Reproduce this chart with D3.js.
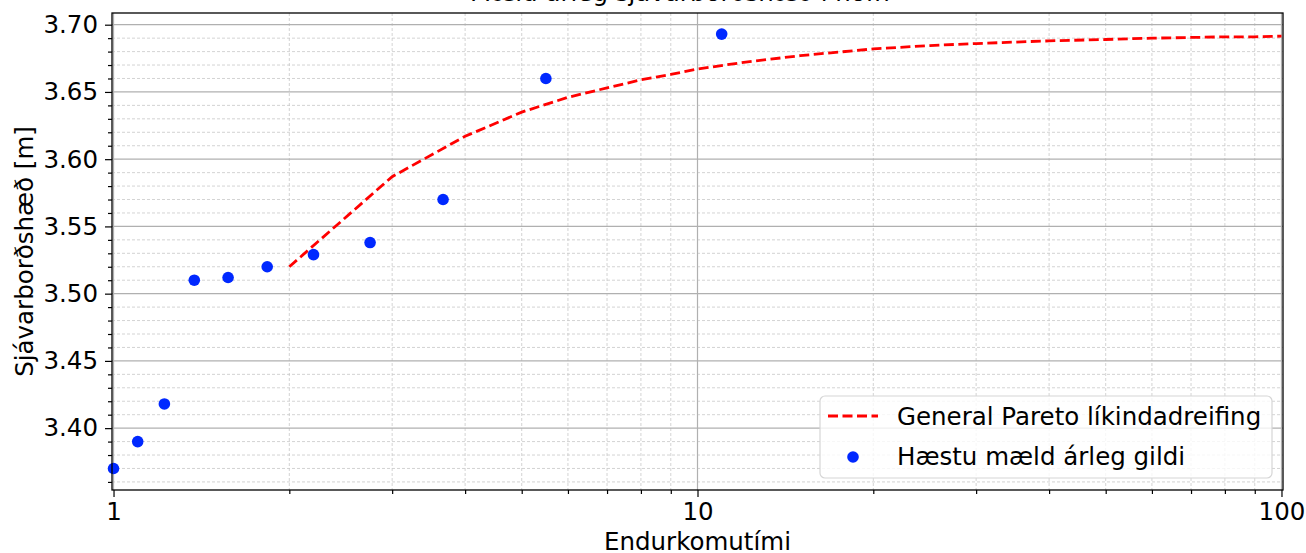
<!DOCTYPE html>
<html>
<head>
<meta charset="utf-8">
<script src="https://cdn.jsdelivr.net/npm/d3@7"></script>
<style>
  body { margin: 0; background: #fff; }
  svg { display: block; font-family: "DejaVu Sans", sans-serif; }
</style>
</head>
<body>
<svg id="chart" width="1306" height="553"></svg>
<script>
// return periods (years) and highest measured annual values
const obsPeriod = [11, 5.5, 3.667, 2.75, 2.2, 1.833, 1.571, 1.375, 1.222, 1.1, 1.0];
const obsLevel = [3.693, 3.660, 3.570, 3.538, 3.529, 3.520, 3.512, 3.510, 3.418, 3.390, 3.370];

// fitted General Pareto return levels
const fitPeriod = [2, 3, 4, 5, 6, 7, 8, 9, 10, 12, 15, 20, 25, 30, 40, 50, 60, 70, 80, 90, 100];
const fitLevel = [3.520, 3.587, 3.617, 3.635, 3.646, 3.653, 3.659, 3.663, 3.667, 3.672, 3.677,
                  3.682, 3.6845, 3.686, 3.688, 3.689, 3.690, 3.6905, 3.691, 3.691, 3.6915];

const xMajor = [1, 10, 100];
const xMinor = [2, 3, 4, 5, 6, 7, 8, 9, 20, 30, 40, 50, 60, 70, 80, 90];
const yMajor = [3.40, 3.45, 3.50, 3.55, 3.60, 3.65, 3.70];

const titleText = "Mæld árleg sjávarborðshæð í höfn";
const xLabel = "Endurkomutími";
const yLabel = "Sjávarborðshæð [m]";
const legendLabels = ["General Pareto líkindadreifing", "Hæstu mæld árleg gildi"];

const fs = 24.5;
const svg = d3.select("#chart");
const pLeft = 112, pRight = 1283, pTop = 13, pBottom = 490;

const x = d3.scaleLog().domain([0.994, 100.6]).range([pLeft, pRight]);
const y = d3.scaleLinear().domain([3.354, 3.7087]).range([pBottom, pTop]);

const yMinor = d3.range(3.36, 3.705, 0.01).filter(v => !yMajor.some(m => Math.abs(m - v) < 1e-6));

// grid
const grid = svg.append("g");
grid.selectAll("line.xmin").data(xMinor).enter().append("line")
  .attr("x1", d => x(d)).attr("x2", d => x(d)).attr("y1", pTop).attr("y2", pBottom)
  .attr("stroke", "#c8c8c8").attr("stroke-width", 0.8).attr("stroke-dasharray", "3,2");
grid.selectAll("line.ymin").data(yMinor).enter().append("line")
  .attr("y1", d => y(d)).attr("y2", d => y(d)).attr("x1", pLeft).attr("x2", pRight)
  .attr("stroke", "#c8c8c8").attr("stroke-width", 0.8).attr("stroke-dasharray", "3,2");
grid.selectAll("line.xmaj").data(xMajor).enter().append("line")
  .attr("x1", d => x(d)).attr("x2", d => x(d)).attr("y1", pTop).attr("y2", pBottom)
  .attr("stroke", "#b0b0b0").attr("stroke-width", 1.2);
grid.selectAll("line.ymaj").data(yMajor).enter().append("line")
  .attr("y1", d => y(d)).attr("y2", d => y(d)).attr("x1", pLeft).attr("x2", pRight)
  .attr("stroke", "#b0b0b0").attr("stroke-width", 1.2);

// axes
svg.append("g").attr("transform", `translate(0,${pBottom})`)
  .call(d3.axisBottom(x).tickValues(xMajor).tickFormat(d3.format("d")).tickSize(7).tickPadding(6));
svg.append("g").attr("transform", `translate(0,${pBottom})`)
  .call(d3.axisBottom(x).tickValues(xMinor).tickFormat("").tickSize(4));
svg.append("g").attr("transform", `translate(${pLeft},0)`)
  .call(d3.axisLeft(y).tickValues(yMajor).tickFormat(d3.format(".2f")).tickSize(7).tickPadding(7));
svg.append("g").attr("transform", `translate(${pLeft},0)`)
  .call(d3.axisLeft(y).tickValues(yMinor).tickFormat("").tickSize(4));

svg.selectAll(".domain").remove();
svg.selectAll(".tick line").attr("stroke", "#000").attr("stroke-width", 1.2);
svg.selectAll(".tick text").attr("font-size", fs).attr("fill", "#000")
  .attr("font-family", "DejaVu Sans, sans-serif");

// fitted curve
svg.append("path").datum(fitPeriod.map((t, i) => [t, fitLevel[i]]))
  .attr("d", d3.line().x(d => x(d[0])).y(d => y(d[1])))
  .attr("fill", "none").attr("stroke", "#ff0000").attr("stroke-width", 2.8)
  .attr("stroke-dasharray", "10,4.5");

// observations
svg.selectAll("circle.obs").data(obsPeriod.map((t, i) => [t, obsLevel[i]])).enter()
  .append("circle").attr("class", "obs")
  .attr("cx", d => x(d[0])).attr("cy", d => y(d[1])).attr("r", 5.8)
  .attr("fill", "#0028ff");

// frame
svg.append("rect").attr("x", pLeft).attr("y", pTop).attr("width", pRight - pLeft).attr("height", pBottom - pTop)
  .attr("fill", "none").attr("stroke", "#000").attr("stroke-width", 1.3);

// legend
const lg = svg.append("g").attr("transform", "translate(820,396)");
lg.append("rect").attr("width", 452).attr("height", 82).attr("rx", 5)
  .attr("fill", "#fff").attr("fill-opacity", 0.8).attr("stroke", "#d6d6d6").attr("stroke-width", 1.2);
lg.append("line").attr("x1", 8).attr("x2", 58).attr("y1", 20).attr("y2", 20)
  .attr("stroke", "#ff0000").attr("stroke-width", 2.8).attr("stroke-dasharray", "10,4.5");
lg.append("circle").attr("cx", 33).attr("cy", 61).attr("r", 5.8).attr("fill", "#0028ff");
lg.selectAll("text").data(legendLabels).enter().append("text")
  .attr("x", 77).attr("y", (d, i) => 29 + i * 40)
  .attr("font-size", fs).attr("fill", "#000").text(d => d);

// labels
svg.append("text").attr("x", (pLeft + pRight) / 2).attr("y", 550).attr("text-anchor", "middle")
  .attr("font-size", fs).text(xLabel);
svg.append("text").attr("transform", `translate(33,${(pTop + pBottom) / 2}) rotate(-90)`)
  .attr("text-anchor", "middle").attr("font-size", fs).text(yLabel);
svg.append("text").attr("x", 680).attr("y", 0.5).attr("text-anchor", "middle")
  .attr("font-size", fs).text(titleText);
</script>
</body>
</html>
